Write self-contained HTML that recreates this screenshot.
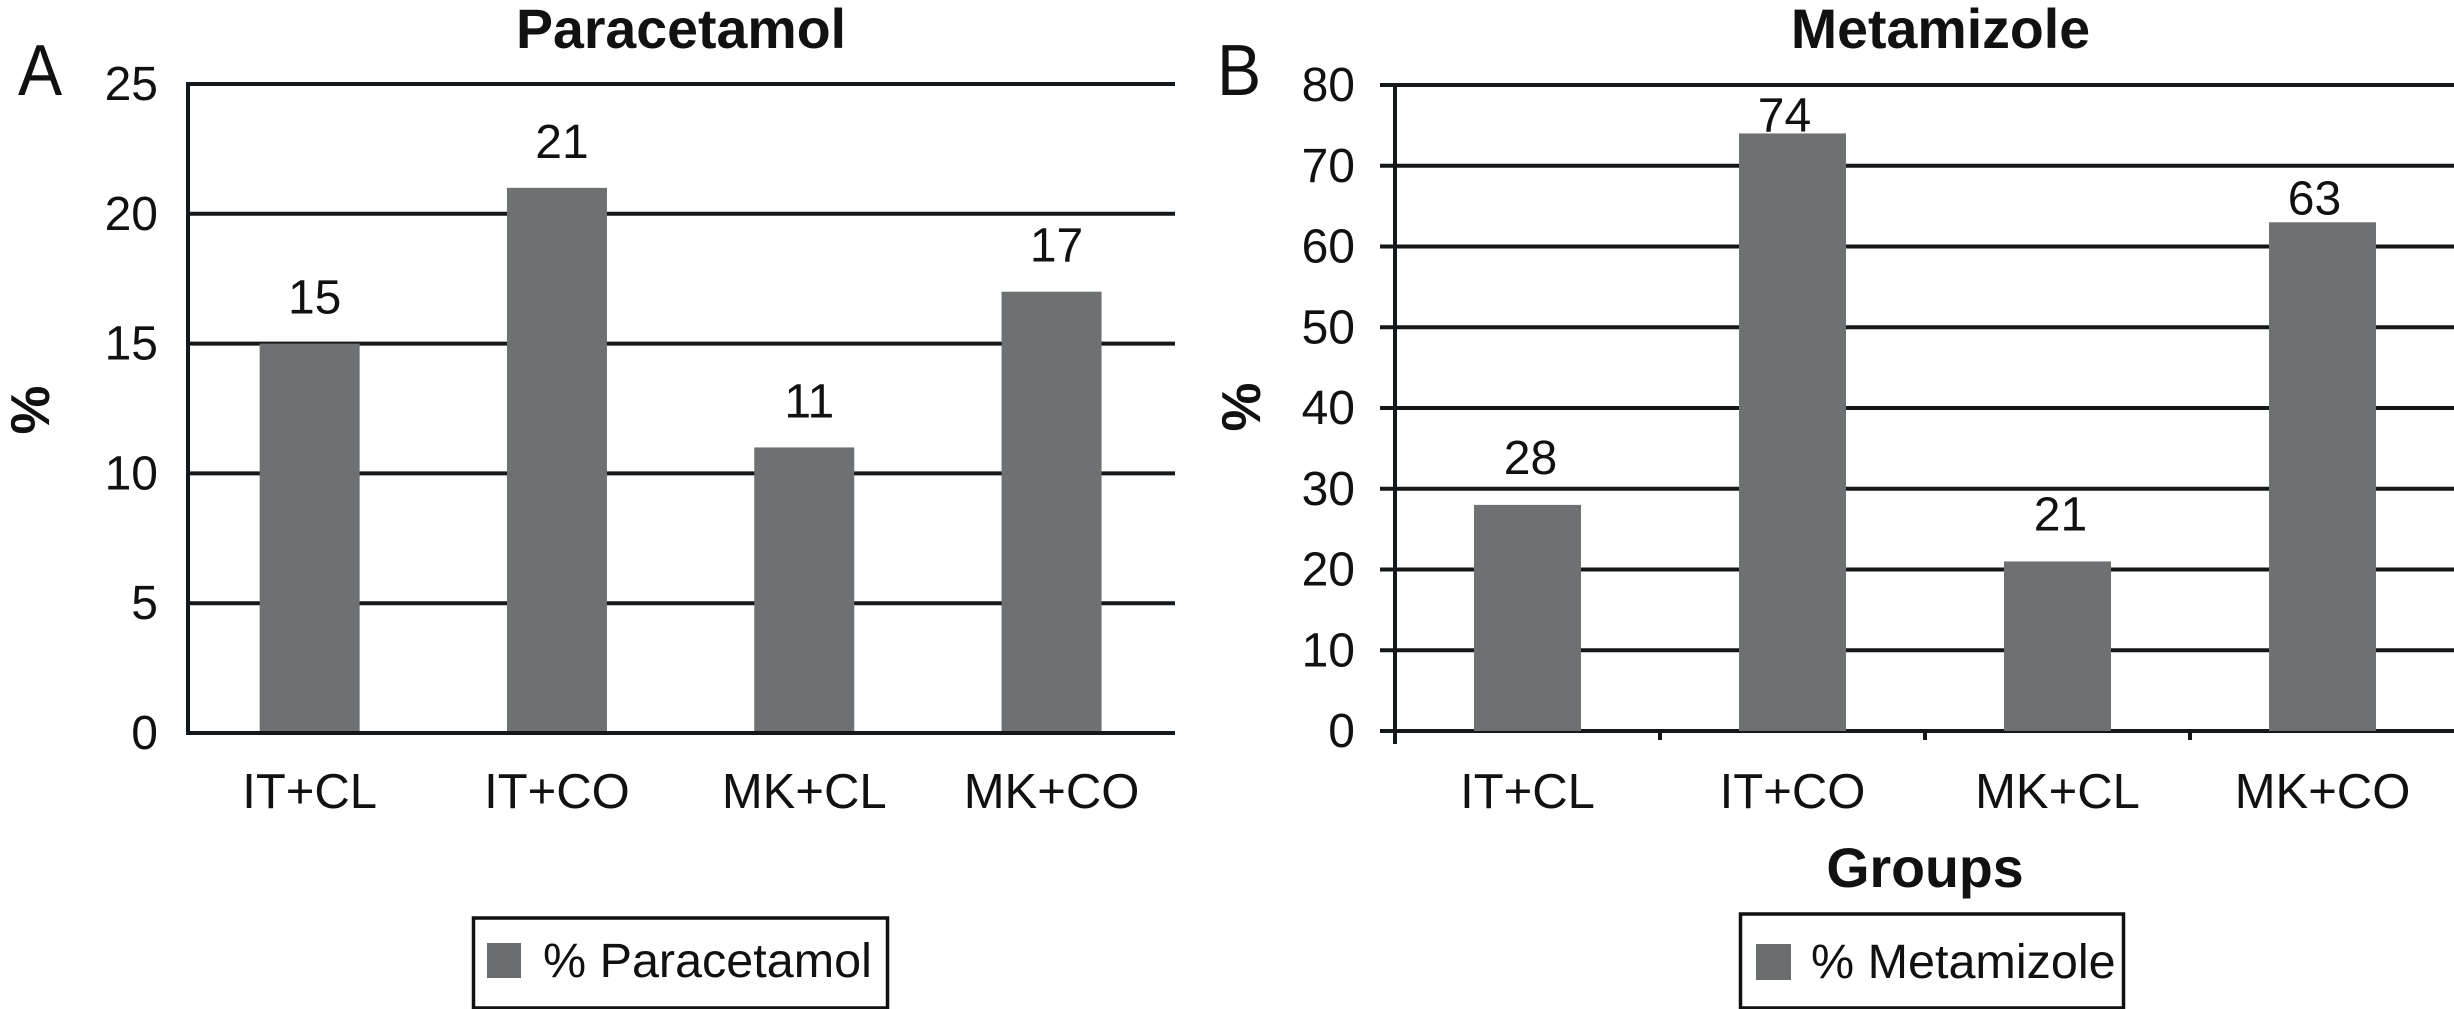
<!DOCTYPE html>
<html lang="en">
<head>
<meta charset="utf-8">
<title>Paracetamol and Metamizole by group</title>
<style>
  html, body { margin: 0; padding: 0; background: #fff; }
  svg { display: block; }
  text { font-family: "Liberation Sans", Arial, sans-serif; fill: #111; }
  .b { font-weight: bold; }
</style>
</head>
<body>
<svg id="figure" xmlns="http://www.w3.org/2000/svg" width="2454" height="1009" viewBox="0 0 2454 1009">
  <rect x="0" y="0" width="2454" height="1009" fill="#fff"/>

  <g id="panelA">
    <text font-size="72" transform="translate(18,95) scale(0.92,1)">A</text>
    <text class="b" x="681" y="48" font-size="55.5" text-anchor="middle">Paracetamol</text>
    <text class="b" font-size="55" text-anchor="middle" transform="translate(49,410) rotate(-90)">%</text>
    <rect x="473.5" y="918" width="414" height="90" fill="#fff" stroke="#111" stroke-width="3.5"/>
    <rect x="487" y="943" width="34" height="35" fill="#6a6d6e"/>
    <text x="543" y="977" font-size="48.5">% Paracetamol</text>
  </g>

  <g id="panelB">
    <text font-size="72" transform="translate(1217,95) scale(0.92,1)">B</text>
    <text class="b" x="1940.5" y="48" font-size="55.5" text-anchor="middle">Metamizole</text>
    <text class="b" font-size="55" text-anchor="middle" transform="translate(1260,407) rotate(-90)">%</text>
    <text class="b" x="1925" y="887" font-size="55.5" text-anchor="middle">Groups</text>
    <rect x="1740.5" y="914" width="383" height="94" fill="#fff" stroke="#111" stroke-width="3.5"/>
    <rect x="1756" y="944" width="35" height="36" fill="#6a6d6e"/>
    <text x="1811" y="978" font-size="48.5">% Metamizole</text>
  </g>
</svg>

<script>
const categories = ["IT+CL", "IT+CO", "MK+CL", "MK+CO"];
const paracetamolValues = [15, 21, 11, 17];
const metamizoleValues = [28, 74, 21, 63];
const paracetamolTicks = [0, 5, 10, 15, 20, 25];
const metamizoleTicks = [0, 10, 20, 30, 40, 50, 60, 70, 80];

const SVG_NS = "http://www.w3.org/2000/svg";
const panelA = document.getElementById("panelA");
const panelB = document.getElementById("panelB");

function yA(v) { return 733 - v * (733 - 84) / 25; }
function xA(i) { return 186 + (i + 0.5) * 247.3; }
function yB(v) { return 731 - v * (731 - 85) / 80; }
function xB(i) { return 1395 + (i + 0.5) * 265; }

function line(parent, x1, y1, x2, y2) {
  const el = document.createElementNS(SVG_NS, "line");
  el.setAttribute("x1", x1);
  el.setAttribute("y1", y1);
  el.setAttribute("x2", x2);
  el.setAttribute("y2", y2);
  el.setAttribute("stroke", "#14181a");
  el.setAttribute("stroke-width", "4");
  parent.appendChild(el);
  return el;
}

function bar(parent, cx, width, top, bottom) {
  const el = document.createElementNS(SVG_NS, "rect");
  el.setAttribute("x", cx - width / 2);
  el.setAttribute("y", top);
  el.setAttribute("width", width);
  el.setAttribute("height", bottom - top);
  el.setAttribute("fill", "#6d7172");
  parent.appendChild(el);
  return el;
}

function label(parent, x, y, content, anchor, size) {
  const el = document.createElementNS(SVG_NS, "text");
  el.setAttribute("x", x);
  el.setAttribute("y", y);
  el.setAttribute("text-anchor", anchor);
  el.setAttribute("font-size", size);
  el.textContent = content;
  parent.appendChild(el);
  return el;
}

/* Panel A: Paracetamol */
paracetamolTicks.forEach(function (t) {
  if (t !== 0) {
    const grid = line(panelA, 188, yA(t), 1175, yA(t));
    
    
  }
  const tick = label(panelA, 158, yA(t) + 16, String(t), "end", 48);
  
  
});

const axisAY = line(panelA, 188, yA(25) - 2, 188, yA(0) + 2);



paracetamolValues.forEach(function (v, i) {
  const rect = bar(panelA, xA(i), 100, yA(v), yA(0));
  
  
  const val = label(panelA, xA(i) + 5, yA(v) - 30, String(v), "middle", 48);
  
  
  const cat = label(panelA, xA(i), 808, categories[i], "middle", 49);
  
  
});

const axisAX = line(panelA, 186, yA(0), 1175, yA(0));



/* Panel B: Metamizole */
function gapB(v) { return v >= 70 ? 2 : (v >= 60 ? 8 : 31); }
function shiftB(v) { return v >= 60 ? -8 : 3; }

metamizoleTicks.forEach(function (t) {
  const grid = line(panelB, 1380, yB(t), 2454, yB(t));
  
  
  const tick = label(panelB, 1355, yB(t) + 16, String(t), "end", 48);
  
  
});

const axisBY = line(panelB, 1395, yB(80) - 2, 1395, 744);



metamizoleValues.forEach(function (v, i) {
  const rect = bar(panelB, xB(i), 107, yB(v), yB(0));
  
  
  const val = label(panelB, xB(i) + shiftB(v), yB(v) - gapB(v), String(v), "middle", 48);
  
  
  const cat = label(panelB, xB(i), 808, categories[i], "middle", 49);
  
  
  if (i > 0) {
    const tickMark = line(panelB, xB(i) - 132.5, yB(0), xB(i) - 132.5, 740);
    
    
  }
});
</script>
</body>
</html>
